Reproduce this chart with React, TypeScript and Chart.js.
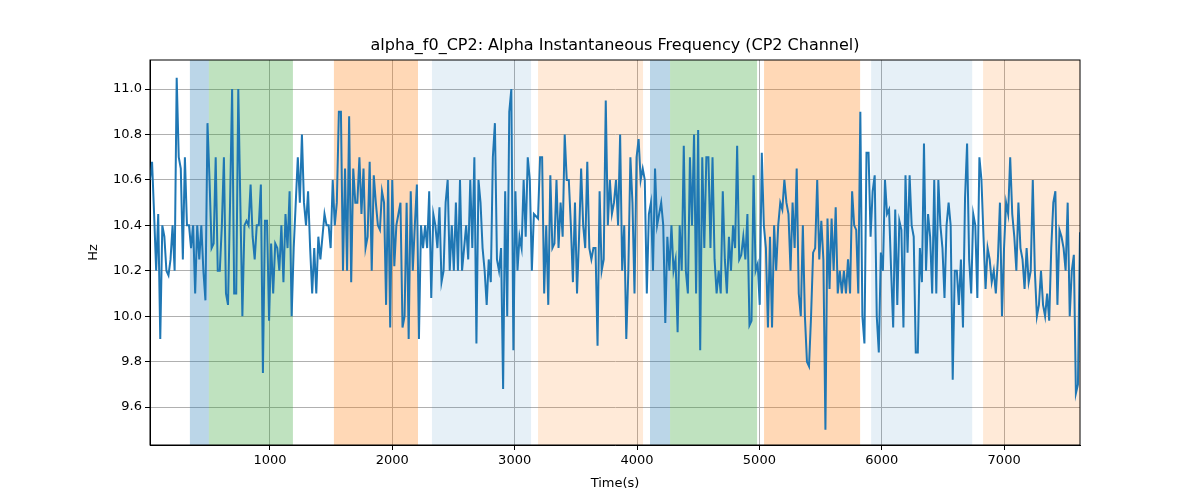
import React, { useEffect, useRef } from "react";
import { Chart, registerables } from "chart.js";
Chart.register(...registerables);

const seg1 = [10.6,10.68,10.45,10.2,10.45,9.9,10.4,10.35,10.2,10.18,10.25,10.4,10.2,11.05,10.7,10.65,10.25,10.7,10.4,10.4,10.3,10.4,10.1,10.4,10.25,10.4,10.2,10.07,10.85,10.6,10.3,10.32,10.7,10.2,10.2,10.4,10.7,10.1,10.05,10.5,11.0,10.1,10.1,11.0,10.5,10.0,10.4,10.42,10.4,10.58,10.35,10.25,10.4,10.4,10.58,9.75,10.42,10.42,9.98,10.32,10.1,10.32,10.3,10.2,10.4,10.15,10.45,10.3,10.55,10.0,10.3,10.5,10.7,10.5,10.8,10.5];
const seg2 = [10.4,10.55,10.3,10.1,10.3,10.1,10.35,10.25,10.35,10.45,10.4,10.4,10.3,10.6,10.4,10.5,10.9,10.9,10.2,10.65,10.2,10.88,10.15,10.65,10.5,10.5,10.7,10.45,10.65,10.3,10.35,10.68,10.2,10.62,10.5,10.4,10.38,10.55,10.5,10.05,10.6,9.95,10.6,10.22,10.4,10.45,10.5,9.95,10.0,10.5,9.9,10.55,10.2,10.4,10.58,9.9,10.4,10.3,10.4,10.3,10.55,10.08,10.45,10.4,10.3,10.48,10.15,10.2,10.5,10.6,10.2,10.4,10.2,10.5,10.2,10.6,10.2];
const seg3 = [10.3,10.4,10.25,10.6,10.3,10.7,9.88,10.6,10.5,10.3,10.2,10.05,10.25,10.15,10.7,10.85,10.25,10.2,10.3,9.68,10.55,10.0,10.9,11.0,9.85,10.55,10.2,10.35,10.3,10.6,10.35,10.7,10.6,10.2,10.45,10.44,10.43,10.7,10.7,10.1,10.4,10.05,10.62,10.3,10.32,10.6,10.3,10.5,10.35,10.8,10.6,10.6,10.4,10.15,10.5,10.1,10.35,10.65,10.4,10.3,10.68,10.3,10.25,10.3,10.3,9.87,10.55,10.2,10.25,10.95,10.4];
const seg4 = [10.6,10.45,10.5,10.6,10.4,10.8,10.2,10.4,9.9,10.2,10.7,10.5,10.1,10.7,10.78,10.6,10.65,10.6,10.1,10.45,10.5,10.2,10.65,10.4,10.45,10.5,10.4,9.97,10.35,10.2,10.4,10.2,10.25,9.93,10.4,10.2,10.75,10.2,10.1,10.7,10.4,10.8,10.1,10.82,9.85,10.7,10.3,10.7,10.7,10.3,10.7,10.25,10.1,10.2,10.1,10.55,10.25,10.1,10.35,10.2,10.4,10.3,10.75,10.25,10.27,10.35,10.25,10.45,9.96,9.98,10.62,10.2,10.23,10.05,10.72,10.4,10.3,9.95,10.35];
const seg5 = [9.95,10.4,10.2,10.4,10.5,10.47,10.6,10.5,10.45,10.2,10.5,10.3,10.65,10.1,10.0,10.4,10.0,9.8,9.78,10.0,10.28,10.3,10.6,10.25,10.42,10.25,9.5,10.43,10.12,10.43,10.2,10.48,10.1,10.2,10.1,10.2,10.1,10.25,10.1,10.55,10.4,10.38,10.1,10.9,10.0,9.88,10.72,10.72,10.35,10.55,10.62,10.0,9.84,10.28,10.2,10.6,10.45,10.47,10.2,9.95,10.47,10.05,10.42,10.38,9.95,10.62,10.28,10.62,10.4,10.35,9.84,9.84,10.3,10.15,10.76,10.2,10.45,10.35,10.1];
const seg6 = [10.6,10.1,10.6,10.4,10.3,10.08,10.4,10.5,10.4,9.72,10.2,10.2,10.05,10.25,9.95,10.52,10.76,10.25,10.1,10.45,10.4,10.08,10.7,10.6,10.35,10.12,10.3,10.25,10.15,10.2,10.1,10.25,10.5,10.0,10.3,10.5,10.45,10.7,10.45,10.35,10.2,10.5,10.3,10.25,10.12,10.3,10.15,10.2,10.6,10.2,10.0,10.05,10.2,10.05,10.0,10.1,9.98,10.3,10.5,10.55,10.05,10.38,10.35,10.3,10.2,10.5,10.0,10.2,10.27,9.66,9.7,10.37];
const values = [...seg1, ...seg2, ...seg3, ...seg4, ...seg5, ...seg6];
const tStart = 20;
const tEnd = 7620;
const titleText = "alpha_f0_CP2: Alpha Instantaneous Frequency (CP2 Channel)";

const bandStarts = [346, 501, 1523, 2324, 3191, 4106, 4270, 5038, 5913, 6828];
const bandEnds = [501, 1188, 2210, 3134, 4049, 4270, 4981, 5823, 6739, 7621];
const bandColors = [
  "rgba(31,119,180,0.3)", "rgba(44,160,44,0.3)", "rgba(255,127,14,0.3)", "rgba(31,119,180,0.11)", "rgba(255,127,14,0.16)",
  "rgba(31,119,180,0.3)", "rgba(44,160,44,0.3)", "rgba(255,127,14,0.3)", "rgba(31,119,180,0.11)", "rgba(255,127,14,0.16)",
];
const xTicks = [1000, 2000, 3000, 4000, 5000, 6000, 7000];
const yTicks = [9.6, 9.8, 10.0, 10.2, 10.4, 10.6, 10.8, 11.0];

const bandsPlugin = {
  id: "bands",
  beforeDatasetsDraw(chart: any) {
    const { ctx, chartArea, scales } = chart;
    ctx.save();
    bandStarts.forEach((s, i) => {
      const x0 = scales.x.getPixelForValue(s);
      const x1 = scales.x.getPixelForValue(bandEnds[i]);
      ctx.fillStyle = bandColors[i];
      ctx.fillRect(x0, chartArea.top, x1 - x0, chartArea.bottom - chartArea.top);
    });
    ctx.restore();
  },
  afterDraw(chart: any) {
    const { ctx, chartArea } = chart;
    ctx.save();
    ctx.strokeStyle = "#000";
    ctx.lineWidth = 1;
    ctx.strokeRect(chartArea.left, chartArea.top, chartArea.right - chartArea.left, chartArea.bottom - chartArea.top);
    ctx.fillStyle = "#000";
    ctx.font = "16px 'DejaVu Sans'";
    ctx.textAlign = "center";
    ctx.textBaseline = "middle";
    ctx.fillText(titleText, (chartArea.left + chartArea.right) / 2, 46);
    ctx.restore();
  },
};

export default function App() {
  const ref = useRef<HTMLCanvasElement>(null);
  useEffect(() => {
    const step = (tEnd - tStart) / (values.length - 1);
    const pts = values.map((v, i) => ({ x: tStart + i * step, y: v }));
    const font = { family: "DejaVu Sans", size: 13 };
    const chart = new Chart(ref.current!, {
      type: "line",
      data: { datasets: [{ data: pts, borderColor: "#1f77b4", borderWidth: 2, pointRadius: 0, tension: 0 }] },
      options: {
        animation: false,
        responsive: false,
        layout: { padding: { left: 86, right: 120, top: 60, bottom: 7 } },
        plugins: { legend: { display: false }, tooltip: { enabled: false } },
        scales: {
          x: {
            type: "linear", min: tStart, max: tEnd,
            afterBuildTicks: (s: any) => { s.ticks = xTicks.map((v) => ({ value: v })); },
            afterFit: (s: any) => { s.height = 48; },
            ticks: { color: "#000", font, maxRotation: 0, callback: (v: any) => String(v) },
            grid: { color: "#b0b0b0", drawTicks: true, tickLength: 5, tickColor: "#000" },
            border: { color: "#000" },
            title: { display: true, text: "Time(s)", color: "#000", font, padding: 2 },
          },
          y: {
            min: 9.433, max: 11.128,
            afterBuildTicks: (s: any) => { s.ticks = yTicks.map((v) => ({ value: v })); },
            afterFit: (s: any) => { s.width = 64; },
            ticks: { color: "#000", font, callback: (v: any) => Number(v).toFixed(1) },
            grid: { color: "#b0b0b0", tickLength: 5, tickColor: "#000" },
            border: { color: "#000" },
            title: { display: true, text: "Hz", color: "#000", font, padding: 0 },
          },
        },
      },
      plugins: [bandsPlugin],
    } as any);
    return () => chart.destroy();
  }, []);
  return (
    <div style={{ position: "fixed", left: 0, top: 0, width: 1200, height: 500, background: "#fff" }}>
      <canvas ref={ref} width={1200} height={500} />
    </div>
  );
}
